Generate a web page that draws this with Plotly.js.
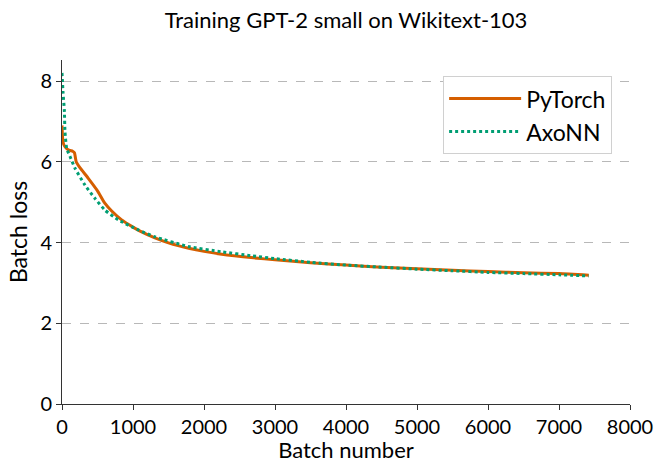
<!DOCTYPE html>
<html><head><meta charset="utf-8">
<script src="https://cdn.plot.ly/plotly-3.0.1.min.js"></script>
<style>html,body{margin:0;padding:0;background:#fff}#chart{width:657px;height:463px}</style>
</head><body><div id="chart"></div>
<script>
const pytorchX = [0, 8, 20, 40, 70, 110, 150, 175, 200, 250, 370, 500, 600, 700, 840, 1000, 1100, 1300, 1500, 1800, 2000, 2250, 2700, 3000, 3500, 4000, 4500, 5000, 5500, 6000, 6500, 7000, 7420];
const pytorchY = [6.9, 6.6, 6.45, 6.38, 6.32, 6.28, 6.26, 6.22, 6.0, 5.86, 5.59, 5.28, 4.98, 4.78, 4.56, 4.38, 4.28, 4.12, 3.99, 3.85, 3.78, 3.71, 3.62, 3.57, 3.50, 3.44, 3.39, 3.35, 3.31, 3.28, 3.25, 3.23, 3.19];
const axonnX = [0, 15, 33, 42, 66, 113, 183, 324, 465, 606, 793, 1075, 1310, 1779, 2249, 2672, 3000, 3500, 4000, 4500, 5000, 5500, 6000, 6500, 7000, 7420];
const axonnY = [8.2, 7.7, 7.28, 6.74, 6.33, 6.13, 5.84, 5.42, 5.09, 4.80, 4.56, 4.31, 4.14, 3.90, 3.77, 3.67, 3.60, 3.51, 3.44, 3.39, 3.34, 3.30, 3.26, 3.23, 3.20, 3.17];
const xTicks = [0, 1000, 2000, 3000, 4000, 5000, 6000, 7000, 8000];
const yTicks = [0, 2, 4, 6, 8];

const FONT = 'Lato, "DejaVu Sans", sans-serif';
const traces = [
  {x: pytorchX, y: pytorchY, name: 'PyTorch', mode: 'lines',
   line: {color: '#d55e00', width: 3, shape: 'spline', smoothing: 0.5}},
  {x: axonnX, y: axonnY, name: 'AxoNN', mode: 'lines',
   line: {color: '#009e73', width: 3, dash: 'dot', shape: 'spline', smoothing: 0.5}}
];
const layout = {
  width: 657, height: 463,
  margin: {l: 62, r: 27, t: 60, b: 59},
  paper_bgcolor: '#fff', plot_bgcolor: '#fff',
  font: {family: FONT, color: '#000', size: 20},
  title: {text: 'Training GPT-2 small on Wikitext-103', x: 346/657, xanchor: 'center', y: 0.956, yanchor: 'middle', font: {size: 22}},
  xaxis: {range: [0, 8000], tickvals: xTicks, ticktext: xTicks.map(String), showgrid: false, zeroline: false,
          showline: true, linecolor: '#333', linewidth: 1, ticks: 'outside', ticklen: 5, tickcolor: '#333',
          tickfont: {size: 20}, title: {text: 'Batch number', font: {size: 22}, standoff: 4}},
  yaxis: {range: [0, 8.52], tickvals: yTicks, ticktext: yTicks.map(String), showgrid: true, gridcolor: '#b8b8b8', griddash: 'dash', gridwidth: 1,
          zeroline: false, showline: true, linecolor: '#333', linewidth: 1, ticks: 'outside', ticklen: 5, tickcolor: '#333',
          tickfont: {size: 20}, title: {text: 'Batch loss', font: {size: 23}, standoff: 6}},
  legend: {x: 0.671, y: 0.953, xanchor: 'left', yanchor: 'top', bgcolor: '#fff', bordercolor: '#d0d0d0', borderwidth: 1,
           font: {size: 23}, itemwidth: 72, tracegroupgap: 6},
  showlegend: true
};
Plotly.newPlot('chart', traces, layout, {displayModeBar: false, staticPlot: true});
</script></body></html>
